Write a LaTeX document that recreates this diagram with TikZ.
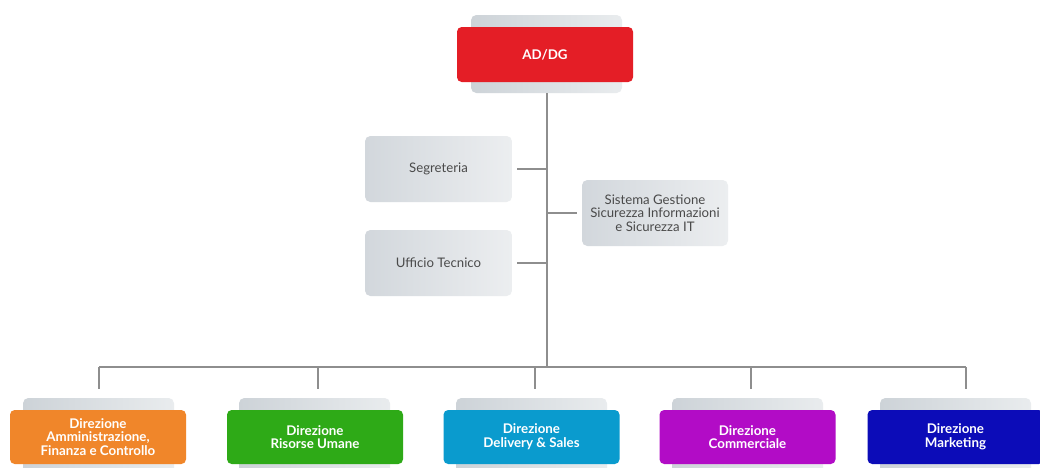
\documentclass[tikz,border=0pt]{standalone}
\usepackage{fontspec}
\setmainfont{Lato}
\definecolor{cRed}{HTML}{E41E26}
\definecolor{cOrange}{HTML}{F0862A}
\definecolor{cGreen}{HTML}{2EAA17}
\definecolor{cCyan}{HTML}{0A9BCE}
\definecolor{cMag}{HTML}{B20CC6}
\definecolor{cBlue}{HTML}{0C0CB8}
\definecolor{gL}{HTML}{D2D7DC}
\definecolor{gR}{HTML}{ECEEF0}
\definecolor{bL}{HTML}{CDD3D8}
\definecolor{bR}{HTML}{E9ECEE}
\definecolor{lineg}{HTML}{8E8E8E}
\definecolor{txtg}{HTML}{4A4A4A}
\tikzset{
  backbox/.style={rounded corners=4pt, left color=bL, right color=bR, draw=none,
    minimum width=113.25pt, inner sep=0pt},
  headbox/.style={rounded corners=3.5pt, fill=#1, draw=none, text=white,
    font=\bfseries\fontsize{10}{10.3}\selectfont, align=center,
    minimum width=132pt, minimum height=40.5pt, inner sep=0pt},
  graybox/.style={rounded corners=4pt, left color=gL, right color=gR, draw=none,
    text=txtg, font=\fontsize{9.9}{10}\selectfont, align=center,
    minimum height=49.5pt, inner sep=0pt},
  conn/.style={draw=lineg, line width=0.8pt}
}
\begin{document}
\begin{tikzpicture}[x=0.75pt,y=-0.75pt]
\useasboundingbox (0,0) rectangle (1040,468);
\clip (0,0) rectangle (1040,468);
\fill[white] (0,0) rectangle (1040,468);
% top
\node[backbox, minimum height=58.5pt] (topback) at (546.5,54) {};
\node[headbox=cRed, minimum height=41.25pt] (ad) at (545,54.5) {AD/DG};
% staff
\node[graybox, minimum width=110.25pt] (seg) at (438.5,169) {Segreteria};
\node[graybox, minimum width=110.25pt] (uff) at (438.5,263) {Ufficio Tecnico};
\node[graybox, minimum width=109.5pt] (sis) at (655,213) {Sistema Gestione\\Sicurezza Informazioni\\e Sicurezza IT};
% bottom back boxes
\foreach \x/\n in {98.5/b1,314.5/b2,531.5/b3,747.5/b4,955.5/b5}
  \node[backbox, minimum height=61.5pt] (\n) at (\x,439) {};
\node[headbox=cOrange] (d1) at (98,437) {Direzione\\Amministrazione,\\Finanza e Controllo};
\node[headbox=cGreen] (d2) at (315,437) {Direzione\\Risorse Umane};
\node[headbox=cCyan] (d3) at (531.5,437) {Direzione\\Delivery \& Sales};
\node[headbox=cMag] (d4) at (747.5,437) {Direzione\\Commerciale};
\node[headbox=cBlue] (d5) at (955.5,437) {Direzione\\Marketing};
% connectors
\coordinate (spTop) at (547,93);
\coordinate (spBot) at (547,367);
\coordinate (barL) at (99,367);
\coordinate (barR) at (966,367);
\draw[conn] (topback.south -| spTop) -- (spBot);
\draw[conn] (barL) -- (barR);
\draw[conn] ([xshift=3.75pt]seg.east) -- (seg.east -| spTop);
\draw[conn] ([xshift=3.75pt]uff.east) -- (uff.east -| spTop);
\draw[conn] ([xshift=-3.75pt]sis.west) -- (sis.west -| spTop);
\foreach \x/\n in {99/1,318/2,535/3,751/4,966/5}{
  \coordinate (e\n) at (\x,389);
  \draw[conn] (\x,367) -- (e\n);
}
\end{tikzpicture}
\end{document}
